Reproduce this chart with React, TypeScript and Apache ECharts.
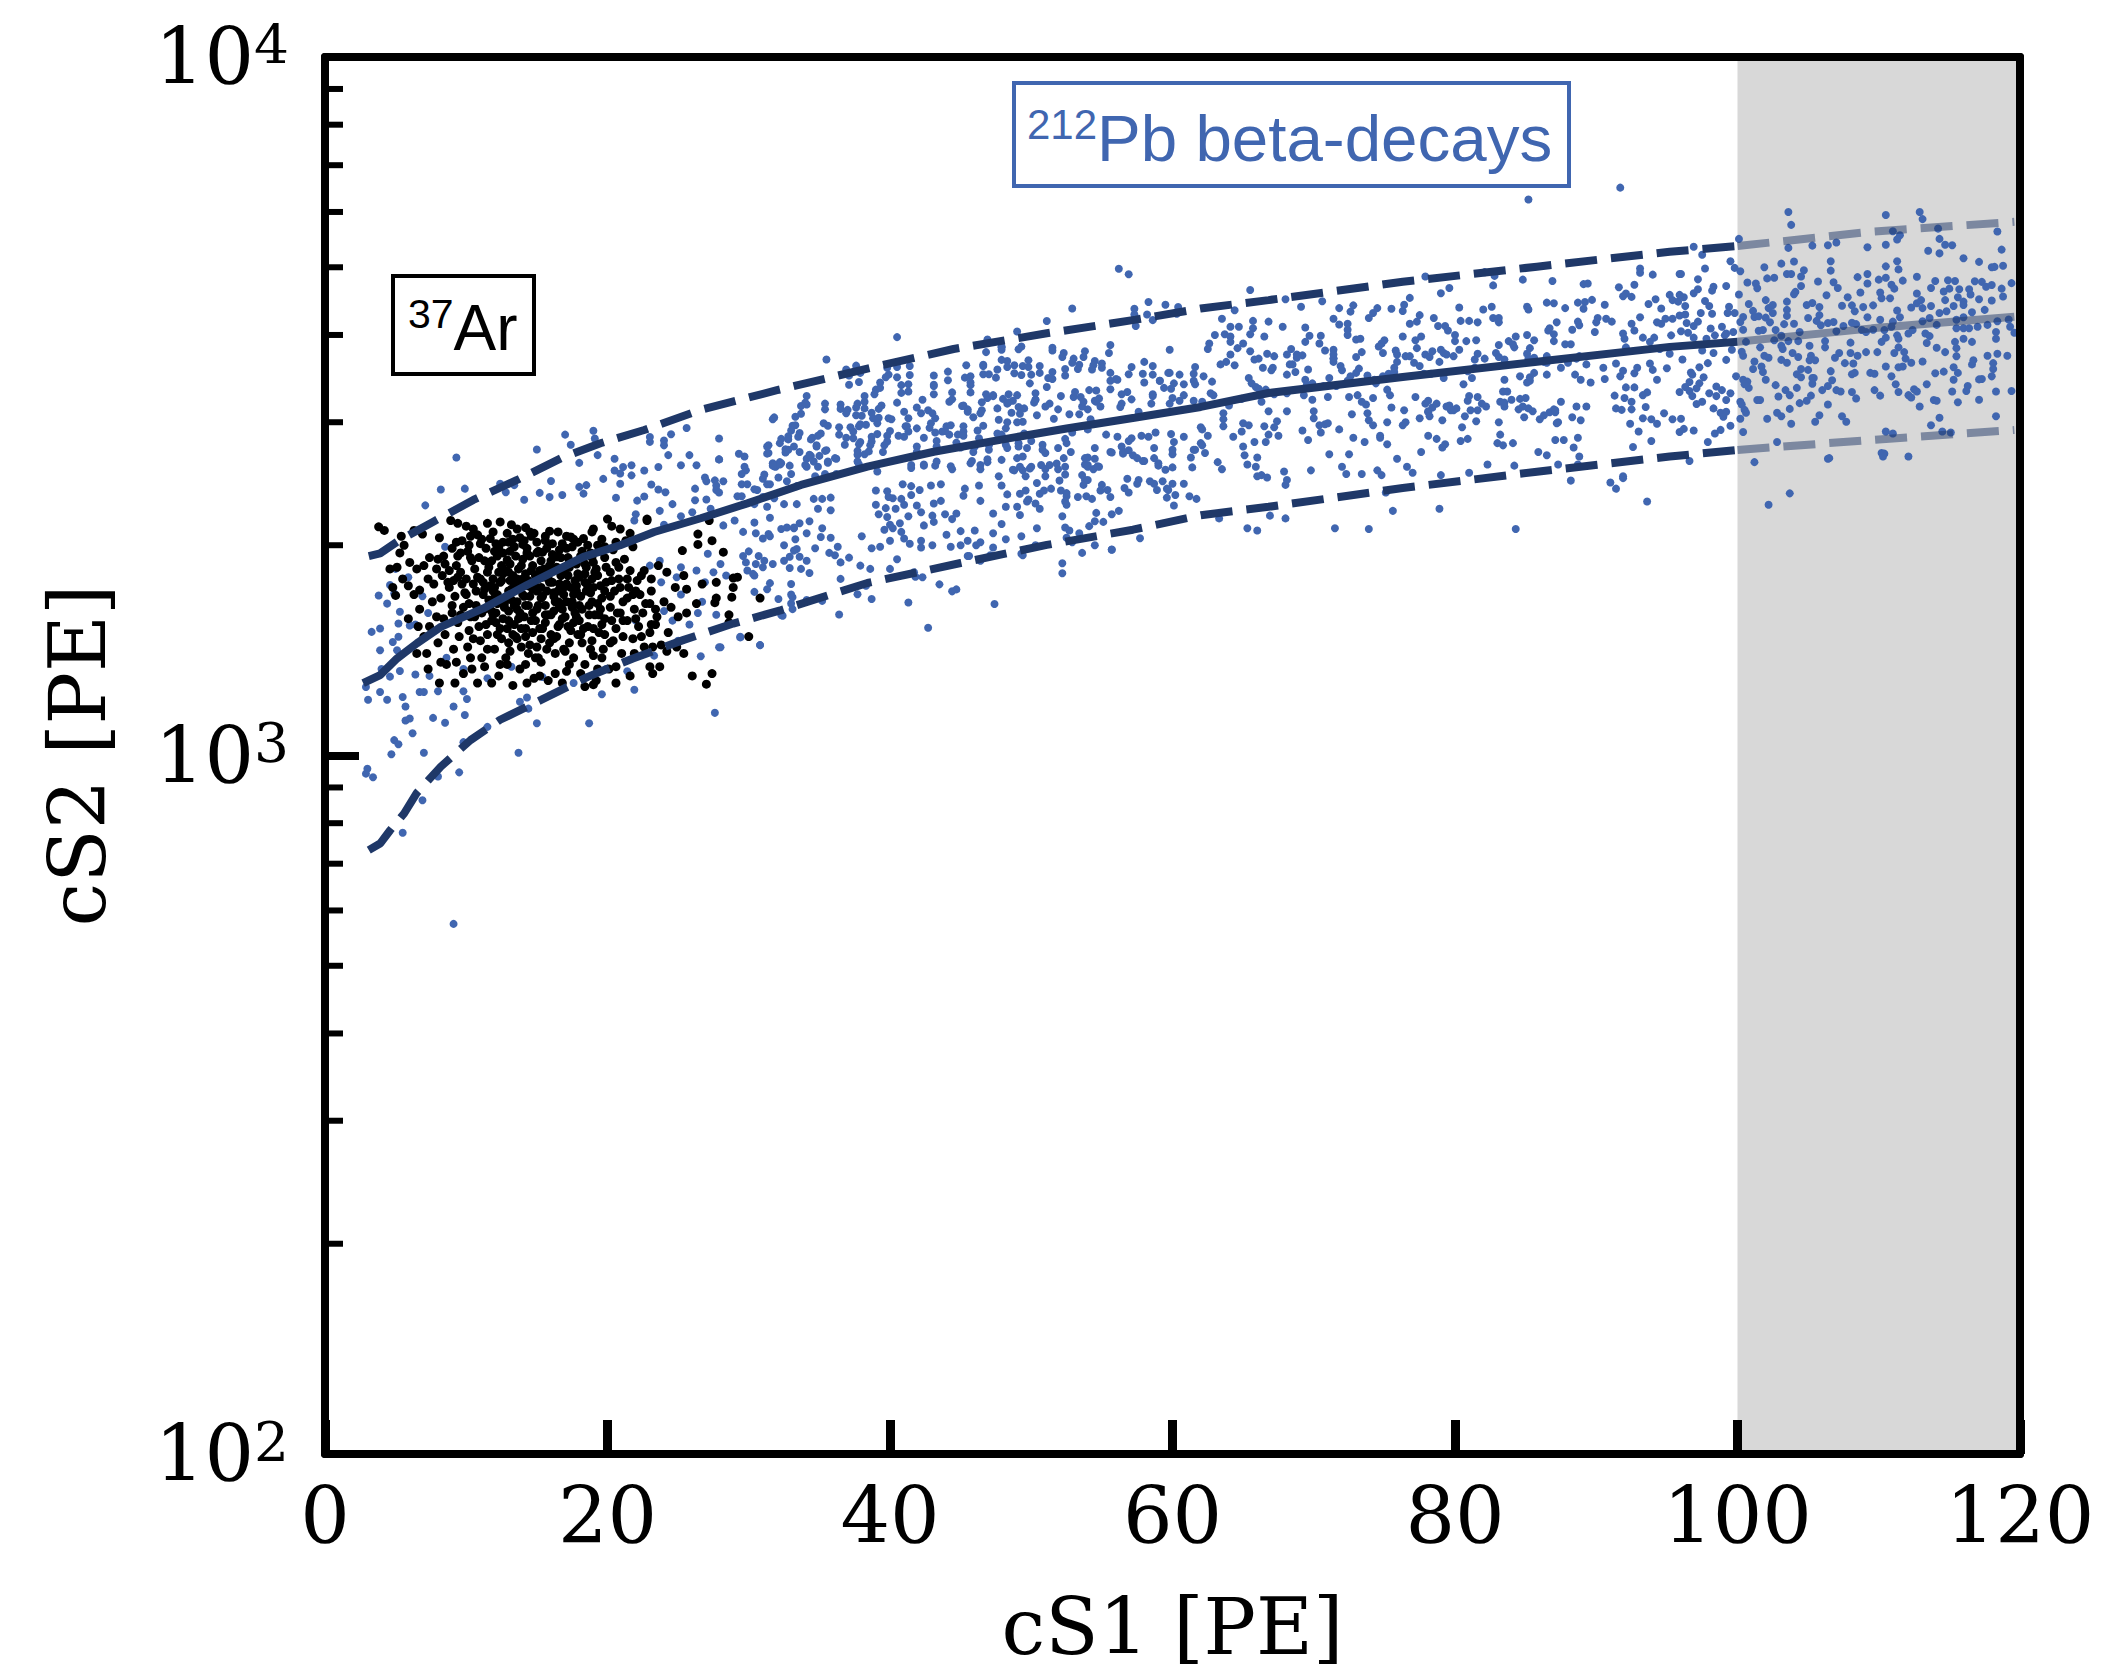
import React, { useEffect, useRef } from "react";
import * as echarts from "echarts";

const minorYTicks = [200, 300, 400, 500, 600, 700, 800, 900, 2000, 3000, 4000, 5000, 6000, 7000, 8000, 9000];

const medianCS1 = [2.7, 3.9, 5.1, 6.5, 8.2, 11.2, 14.3, 18.3, 20.9, 23.3, 26.6, 29.9, 33.7, 38.4, 43.1, 47.8, 52.5, 57.3, 62, 66.8, 76.3, 85.8, 95.2, 100];
const medianCS2 = [1269, 1303, 1377, 1447, 1528, 1624, 1754, 1925, 2000, 2089, 2186, 2296, 2440, 2591, 2722, 2831, 2939, 3045, 3155, 3303, 3483, 3663, 3846, 3912];
const medianFadedCS1 = [100, 109.5, 119.6];
const medianFadedCS2 = [3912, 4088, 4246];

const upperCS1 = [3.1, 3.9, 5.3, 7.7, 10.5, 13.6, 16.7, 19.5, 22.6, 26.6, 32, 38.4, 44.5, 51.1, 57.4, 62, 66.8, 76.3, 85.8, 95.2, 100];
const upperCS2 = [1930, 1947, 2035, 2163, 2322, 2480, 2664, 2799, 2924, 3124, 3334, 3581, 3819, 4022, 4207, 4365, 4487, 4766, 5010, 5263, 5362];
const upperFadedCS1 = [100, 109.5, 119.6];
const upperFadedCS2 = [5362, 5623, 5808];

const lowerCS1 = [3.1, 3.9, 4.6, 5.6, 6.5, 8.2, 10.3, 12.4, 15.3, 18.6, 21.8, 25.4, 28.9, 32.3, 38.4, 45, 51.1, 57.2, 62, 66.8, 76.3, 85.8, 95.2, 100];
const lowerCS2 = [732, 748, 781, 826, 884, 964, 1052, 1125, 1201, 1296, 1377, 1464, 1545, 1615, 1766, 1886, 2002, 2105, 2208, 2270, 2415, 2548, 2679, 2738];
const lowerFadedCS1 = [100, 109.5, 119.6];
const lowerFadedCS2 = [2738, 2830, 2924];

// flat lists: cS1, cS2, cS1, cS2 ...
const bluePointsLow = [
9.3,2670,7.1,2281,8.2,2404,9.9,2410,15,2742,17,2880,19,2917,17.4,2786,19.1,2843,19.3,2692,18,2624,20.5,2660,23,2858,23,2812,24,2825,24.5,2884,25.6,2944,24,2780,24.3,2692,25.8,2692,25.2,2604,20.5,2559,21.1,2588,21.7,2604,22.6,2559,23.6,2588,20.9,2533,21.7,2518,19.7,2489,16,2472,12.4,2449,13.4,2438,12.8,2382,15.2,2377,15.9,2344,16.8,2360,14.1,2323,18,2424,18.5,2438,18.3,2371,20.9,2449,20.6,2339,22.1,2317,22.6,2349,23.1,2443,23.6,2404,24.1,2382,26.2,2410,27.7,2399,26.9,2500,27.6,2477,27.9,2654,29.3,2704,26.3,2604,
3.3,1503,3.9,1520,3.8,1695,4.4,1650,4.6,1754,4.9,1706,5.3,1606,5.2,1545,6,1535,6.4,1540,4.8,1454,5.2,1479,3.9,1415,5.1,1415,4,1330,4.6,1297,5.3,1321,6.4,1306,2.9,1253,3.05,1202,3.9,1233,4.4,1202,5.5,1213,5.7,1175,6.7,1233,7,1233,8,1236,9.8,1236,10.05,1205,9.1,1175,9.9,1143,8.5,1114,7.65,1132,5.7,1122,6,1130,6.2,1076,4.9,1052,5.2,1038,4.7,1004,7,1009,9.8,1045,11.5,1099,13.7,1009,18.7,1112,15,1112,14.4,1167,13.8,1194,14.3,1211,19.6,1224,21.9,1242,27.6,1151,27.9,1429,30.8,1439,29.4,1479,26.6,1387,32.3,1589,3,957,2.9,942,3.4,931,9.5,946,8,933,6.9,863,5.5,775,9.1,574,
5,1850,5.9,1800,6.9,1690,8.5,1990,7.3,1600,8.6,1380,7.4,1300,9.8,1330,11.5,1290,13.2,1340,15.4,1295,17.6,1270,19.9,1330,21.4,1320,23.3,1390,24.6,1560,26.4,1600,25.2,1700,24.9,1800,22,1560,23.8,1770,
29,2170,30.4,2290,31.3,2270,28.2,2135,29.6,2090,32.3,2110,33.2,2115,31.5,2060,27.1,1945,28,1880,30.5,1880,31.7,1880,30,1960,29.9,1840,28.4,1810,30.4,1810,31.5,1765,33,1760,33.1,1685,26.7,1660,27.7,1590,25.8,1540,24,1660,24,1610,25,1460,26.9,1770,27.5,1830,26.3,1840,25.2,1860,23.7,1900,23,1870,31.9,2590,32.9,2600,32.2,2630,29.7,2680,29.8,2560,31.7,2620,32.8,2740,34.1,2660,33,2530,28.2,2470,31.5,2445,30.6,2400,31,2490,26.2,2320,27.3,2255,26,2230,24.6,2290,25.2,2200,24,2140,21.9,2170,22,2215,23.7,2240,
];

const bluePointsMid = [
27,2470,27.7,2435,27.9,2380,27,2325,29.5,2445,29.9,2445,29.7,2590,29.5,2530,29.2,2350,29.5,2350,30.4,2405,31.1,2525,31.3,2445,32.1,2500,32.3,2620,31.8,2595,31.4,2780,31.4,2710,32.3,2840,32.8,2865,32.6,2745,33.6,2895,33.1,2965,33.3,3055,33.7,3165,34.1,3270,34,3200,35.4,3190,34.5,2850,35.1,2890,34.8,2780,35.5,2735,34.4,2685,36.2,2660,34.9,2590,35.6,2625,34.1,2590,34.7,2510,35.4,2530,36.2,2530,32.7,2470,33.4,2430,31,2345,31.8,2335,32.5,2290,33.4,2290,34.6,2330,35.2,2330,35.8,2340,34.9,2255,35.8,2245,31.5,2190,30.4,2155,30.5,2080,31.4,2075,31,2045,32.7,2120,33.6,2150,34.3,2165,33.2,2120,35.2,2115,35.1,2055,35.8,2050,34.1,2080,33.3,2040,32.5,2000,36.3,1990,34.7,1980,33.4,1975,33.2,1965,35.7,1950,36.1,1935,37.1,1920,36.5,1890,32.9,1925,33.6,1925,34.1,1900,32.5,1900,31.1,1900,30.7,1930,29.6,1930,29.8,1890,31,1860,32.9,1855,33.7,1850,34.3,1825,30.3,1820,37.9,1870,38.6,1850,40,1850,40.5,1910,41.7,1830,42.3,1800,36.5,1790,38.3,1750,30.4,1715,31.3,1730,33,1700,34.1,1670,35.2,1665,32.1,1675,33,1650,33.1,1620,
36.9,3570,37.6,3615,37.1,3500,37.9,3530,36.5,3180,37,3125,37.7,3190,38.2,3270,39,3340,39.3,3420,39.8,3590,39.9,3510,40.5,3600,41.4,3610,40.8,3390,41.3,3400,43.1,3500,44.1,3545,43.1,3380,44.4,3310,45.7,3490,45.7,3420,45.4,3620,46.6,3625,46.6,3610,47.6,3570,47.9,3840,46.9,3940,47.9,3850,48.3,3670,49.3,3850,49.8,3680,48.8,3620,49.4,3610,50.6,3610,51.5,3835,52.3,3770,53,3700,53.8,3790,53.4,3625,52.4,3575,51.5,3540,51.2,3470,50,3510,54.5,3670,55,3640,55.6,3870,57.3,4360,57.3,4280,57.4,4120,58.2,4280,58.6,4200,58.3,4460,59.5,4420,60.3,4290,59.8,3810,58,3660,58.6,3610,57.1,3600,55.6,3530,59.8,3530,60.5,3510,61.5,3520,56.1,3450,55.6,3440,59.1,3440,60.1,3410,60.8,3400,59.4,3360,
54.6,3330,54.6,3210,56.4,3290,58.6,3270,60,3250,60.5,3220,56.4,3190,54,3130,54.5,3220,48.4,3290,47.3,3270,48,3240,48.3,3190,46.9,3250,45.5,3130,46.5,3120,48.7,3220,50.2,3200,51.3,3190,53,3260,53.5,3260,53.6,3160,54.2,3030,50.3,3230,51.9,3130,49.5,3140,47.6,3140,45.2,3170,44.2,3210,42.3,3230,41.3,3040,42.7,3120,38.2,3140,38.8,3040,39.4,3170,40.5,3200,41.9,3150,
37.6,3070,37.9,2980,39.1,2990,40.1,3030,41.1,2960,41,2860,41.2,2960,42.9,2990,44,2960,44.2,2880,43.7,2910,45.2,2910,46.2,2920,47.6,2890,47.9,2880,49.5,2890,48.2,2940,
37.4,2910,36.4,2950,36.9,2850,37.9,2810,38.6,2780,37.7,2730,38.2,2700,39.6,2780,39.8,2870,38.7,2860,41.9,2770,43.3,2820,44.8,2880,45,2760,46,2770,47,2780,48.2,2785,49.1,2800,50,2820,50.8,2785,51,2710,52.4,2840,52.9,2900,54,2930,55.3,2880,56.1,2860,56.9,2820,57.8,2870,58.8,2900,59.9,2885,60.1,2810,60.8,2860,62,2800,61.6,2740,60,2700,59,2620,58,2640,57.2,2690,56.5,2720,55.6,2720,54.5,2660,54,2670,53.8,2610,54.4,2570,54.8,2590,54,2590,52.4,2590,51.9,2570,51,2570,50,2590,49.4,2560,48.8,2560,46.9,2630,46.4,2570,45.7,2620,44.4,2570,43.2,2600,42.4,2600,41.5,2580,39.1,2550,37.8,2610,
52.5,2350,53.9,2350,52.4,2310,55,2440,55.4,2400,56.9,2380,58.9,2400,59.6,2340,60.2,2360,61.2,2350,57.6,2480,58.7,2450,59.7,2400,60.1,2280,53.8,2480,53.7,2440,50.6,2370,49.7,2310,49.2,2370,
39.3,1990,38.7,1980,40,2030,41,2045,41.4,2010,42.2,1985,44.3,1990,45,2000,46.1,2000,47.3,1985,45.5,1930,46.4,1900,47.1,1935,48.2,2040,49.3,1945,50.3,2000,52.2,1885,52.5,2050,53.6,1950,54.5,2000,55.7,1970,55.1,2160,54.1,2130,52.7,2100,56.2,2240,54.3,2330,
36.4,1592,42.7,1524,47.4,1648,52.2,1824,55.7,1972,57.7,2046,41.3,1656,38.7,1675,37.7,1702,43.5,1758,44.4,1718,44.7,1729,41.8,1803,32.4,1585,30.8,1439,29.4,1476,28,1429,40.5,3972,35.5,3690,56.2,4977,56.9,4887,52.9,4365,51.1,4188,49,4046,60.4,4385,31.8,3048,27.9,2843,27.9,2654,
39,2395,39,2285,39.8,2390,39.9,2345,40.9,2445,41.5,2430,42.1,2400,41.5,2360,40.8,2330,40.2,2335,41,2285,40.4,2255,39.7,2260,39.2,2215,39.8,2195,41.9,2280,41.3,2200,42.2,2230,43.1,2295,43.6,2315,43,2205,43.9,2215,44.7,2220,44.4,2180,43.1,2160,42.4,2135,40.7,2150,40,2140,42.9,2435,43.6,2445,45.3,2410,45.2,2355,46.3,2435,46.4,2315,47.3,2220,48.2,2270,49.2,2210,49,2270,50.3,2295,50.6,2255,49.8,2325,52.5,2285,53.3,2345,54.9,2395,55.6,2345,47.7,2510,47.9,2435,48.3,2365,49.6,2395,50.9,2395,51.4,2410,52.1,2395,52.5,2375,50.4,2455,49.6,2510,51,2510,52,2475,52.4,2525,53.6,2520,54,2480,56.8,2490,57.5,2450,56.6,2415,58.4,2470,59.3,2470,60,2450,60.8,2450,59.6,2410,61.7,2330,
45.5,2030,46.4,2020,47.9,2145,49.3,2060,50.4,2115,52.2,2200,52.4,2120,54.5,2165,54.6,2225,55.7,2215,53.4,2080,52.9,2020,49.4,1935,45.6,1930,38,2060,39.6,2105,40.2,2115,40.8,2090,42.2,2030,43,2000,44,2070,45,2095,46,2100,47.3,2080,
];

const bluePointsMidUpper = [
31.7,3030,33.3,2970,34.1,3180,33.7,3085,35.4,3130,33,2920,35.3,2990,35.6,2965,37.2,2950,37.8,2960,38.3,2975,36.4,2880,34.9,2870,34.4,2835,33.5,2860,32.8,2835,32.2,2800,31.3,2770,31.3,2705,33.2,2770,34.8,2770,36.8,2785,37.4,2845,37.8,2790,38.7,2815,39.1,2885,40,2915,40.6,2870,41.3,2910,41.9,2940,42.8,2945,43.2,2900,43.9,2915,44.3,2970,42.4,2850,45.2,2870,44.7,2805,45.2,2960,46.6,2965,46.3,2845,39.8,2815,35.4,2730,33.6,2720,32.6,2715,34.3,2695,35,2685,36.1,2665,35.6,2635,34.6,2635,34,2605,32.2,2610,31.7,2600,37.7,2635,37.7,2695,38.5,2725,39.5,2720,41.9,2720,43.3,2770,45.9,2720,47,2740,41.5,2605,42.4,2610,43.3,2635,44.3,2595,45.8,2640,46.4,2605,46.9,2655,47.9,2650,48.3,2755,49.1,2770,49.7,2755,49,2665,49.4,2680,48.7,2565,49.2,2590,49.9,2575,50.7,2605,51.3,2605,51.8,2618,52.3,2665,52.8,2720,50.8,2740,51.9,2755,52.5,2800,53.8,2665,54,2605,54.7,2595,54.5,2755,55.7,2715,56.4,2770,56.5,2705,57.1,2845,56.9,2735,57.5,2665,57.9,2640,58.7,2665,59,2600,60,2585,59.5,2565,60,2740,58.3,2860,58.7,2755,61.3,2670,61.4,2585,
54.4,3620,55,3590,54.3,3570,53.3,3575,52.4,3500,51.5,3460,50.6,3530,49.9,3410,51.1,3370,52.1,3270,53.1,3315,54.1,3335,54.8,3245,53.7,3210,55.6,3345,56,3460,56.8,3315,56.9,3515,57.9,3520,58.6,3510,58,3420,59.1,3440,59.7,3530,59.9,3350,58.6,3290,57.1,3235,58.5,3190,59.8,3190,60.8,3280,61.5,3440,54.9,3160,56.3,3155,57.6,3105,53.4,3080,52.7,3080,51.6,3035,50.4,3070,51,3160,50.3,3230,50.3,3300,49,3280,48.4,3205,49.1,3155,48.6,3095,49.2,3085,47.7,3025,48.3,3000,49,3000,49.4,3005,47.3,3280,46.8,3290,46.5,3205,45.1,3165,45.5,3105,45.9,3050,46.4,3090,44.4,3235,43.1,3395,43.1,3290,44.1,3445,45.7,3390,45.7,3310,45.3,3475,46.6,3515,47,3515,47.5,3475,48.8,3525,49.3,3505,49.8,3600,48.3,3600,47.9,3685,47.9,3810,46.8,3780,49.1,3815,51.5,3800,52.2,3720,52.9,3650,53.7,3720,55.5,3770,41.3,3320,40.8,3305,41.4,3505,40.5,3480,39.7,3480,38.9,3290,39.3,3360,38.2,3210,37.1,3395,37.8,3425,36.5,3135,36.9,3090,37.6,3150,38,3065,38.7,3095,39.2,3135,39.2,3045,39.9,3040,41,3105,42.2,3090,43,3090,43.2,3040,
];

const bluePointsUpperRight = [
65.5,4640,64.4,4340,63.5,4220,64.1,4110,64.7,4110,65.7,4190,65.7,4090,66.8,4180,63,4000,63.7,4010,67.8,4110,68,4500,69.1,4390,70.6,4470,69.4,4100,71.8,4370,72.6,4320,72.8,4410,71.4,4220,71.8,4140,72.4,4150,72.4,4070,72.4,4000,73.9,4230,74.2,4300,74.5,4370,75.5,4360,76.3,4330,76.4,4420,76.8,4520,76.8,4150,77.3,4180,77.5,4270,78.5,4230,78.8,4120,79,4590,79.6,4670,77.9,4850,80.3,4380,79.3,4120,79.5,4060,80.4,4190,81,4190,81.6,4170,82,4350,82.1,4920,82.8,4860,82.7,4710,82.6,4390,82.7,4230,83.1,4230,83.1,4170,84.8,4800,86.9,4780,85.1,4390,85.2,4350,86.5,4450,87,4440,87.8,4370,87.2,4170,88.7,4450,89.2,4460,89.7,4490,89.1,4360,89.1,4730,89.4,4740,90.6,4420,88.7,4180,88.8,4130,88.3,4070,90.1,4230,90,4170,90.7,4220,86.7,4090,87,4010,86.6,4060,89.9,4040,
62.6,3890,62.5,3820,64.1,3980,64.1,3910,65.5,4010,65,3890,64.6,3830,66.5,3980,65.5,3790,64.1,3750,66.7,3760,66.1,3700,67.2,3730,68.4,3820,68.1,3750,68.8,3750,69.2,3740,69.4,3910,69.7,3990,70.5,3990,70.4,3890,70.8,3800,71.4,3700,71.4,3810,71.4,3750,71.4,3700,73,3940,73.3,3950,73.4,3780,73,3720,75,3930,74.8,3890,74.6,3850,74.9,3770,76.3,3980,77.2,3930,77.6,3980,75.8,3800,75.9,3750,76.5,3730,76.8,3730,77.3,3830,77.9,3750,78.2,3720,78.4,3790,79,3810,79.2,3770,79.4,3750,80.3,3810,79.9,3730,81.6,3760,82.1,3700,80.8,3920,81.5,3930,80,3920,80,4000,82.9,3770,83.1,3720,84.2,3840,83.8,3920,84.3,3980,85.1,4000,85.6,3930,83.1,3870,84.1,3880,85.3,3830,85.1,3760,85.2,3700,83.5,3690,87,3920,87.8,3880,85.6,3710,86.5,3730,88.8,3730,88.2,3880,
61.6,3600,62.2,3490,62.8,3430,63.4,3630,63.8,3660,64.4,3620,65.4,3470,65.6,3410,65.8,3690,65.9,3370,67.1,3590,66.1,3350,66.4,3590,67,3560,68.1,3510,68.5,3630,68.7,3540,68.3,3630,69.6,3570,68.8,3710,69.4,3450,69.5,3390,69.9,3410,70.7,3380,71.6,3380,71.1,3470,72.4,3440,73.2,3580,72.6,3490,71.9,3610,71.4,3660,72,3560,73,3530,73.8,3500,74.3,3450,74.9,3490,74.4,3410,75.3,3520,75.7,3590,75.9,3660,75.7,3540,77.1,3650,77.8,3520,77.5,3610,78.9,3660,78.3,3520,79.2,3470,80.6,3400,80.9,3550,81.2,3470,81.4,3690,81.4,3590,83.5,3450,84.6,3490,85.3,3440,86.3,3660,85.1,3420,85.3,3480,85.6,3530,86.5,3650,86.5,3510,87.5,3590,88,3650,88.6,3700,88.5,3510,88.9,3450,89.3,3630,89.6,3420,90.6,3460,90.5,3590,
61.6,3400,62.9,3280,62.7,3300,61.5,3220,62.1,3210,64,3170,64.9,3240,66.6,3340,66.3,3210,67.2,3290,69.3,3280,68.1,3300,69.9,3230,71,3260,72.5,3260,73.1,3280,73.4,3210,73.7,3180,74.2,3250,75.4,3280,75.2,3340,77.2,3260,77.9,3190,78.1,3220,78.4,3150,78.7,3190,80.1,3140,81,3270,81.6,3260,83.4,3320,83.2,3210,83.7,3320,83.5,3200,86.7,3100,86,3030,85.5,3110,85.2,3140,84.8,3160,83.5,3160,84.6,3240,82.2,3160,81.6,3120,81.1,3120,80.9,3220,79.9,3120,79.4,3160,79.6,3170,79.7,3120,75.5,3150,76.4,3120,78.1,3110,81.9,3190,84.5,3130,84,3230,85,3250,86.3,3070,87,3130,87.5,3210,88.6,3160,89.3,3160,
62,2950,63.6,3090,63.6,3030,63.6,2960,65,2990,65.4,2970,66.8,3110,66.5,2960,68.1,3110,67.4,3010,67.2,2950,67.5,2870,70,3110,70,3040,72.7,3080,73.8,3090,73.9,3020,74.2,2970,74.7,2870,75.2,3000,76.3,2970,77.5,3040,78.1,3100,76.5,3000,78.2,3060,79.1,3020,80.5,2950,80.7,3060,81.5,3010,83.1,3000,84.9,3050,87.1,3120,87.1,3100,87.3,3000,87.2,2990,88.3,3050,88.9,3020,
62.1,2930,62.5,2870,64.3,2860,64.9,2910,66.8,2880,66.6,2810,65,2770,65.8,2810,69.2,2920,70.4,2970,70.5,2900,69.6,2830,70.8,2980,71,2990,71.8,2930,72.8,2850,73.6,2810,74.7,2850,75.2,2790,77.6,2720,78.1,2870,78.7,2840,79.3,2790,79.1,2760,80.4,2820,80.9,2840,83.2,2880,83,2800,83.4,2780,84.1,2800,87.1,2830,87.7,2830,88.7,2850,88.4,2760,
62.1,2780,62.3,2710,61.5,2740,63.2,2630,63.5,2570,65.1,2690,66,2670,65.3,2610,66,2510,66.3,2520,66.7,2500,67.9,2550,68,2440,65.9,2590,68.1,2480,69.8,2560,71.1,2700,72.5,2700,72,2590,72.3,2530,73.4,2530,74.5,2560,74.8,2520,75.9,2660,76.6,2590,75.1,2380,77,2540,79,2520,81,2540,82.3,2610,84.2,2600,85.9,2720,86.5,2690,87.3,2610,88.7,2610,88.8,2680,
];

const bluePointsRight = [
103.6,6000,103.8,5750,110.5,5940,112.9,6000,113.1,5860,100.1,5490,96.9,5350,97.5,5210,103.6,5330,105.3,5370,106.4,5375,107,5425,109.2,5340,110.5,5385,111,5630,111.5,5555,111.3,5480,114.2,5680,114.3,5490,114.7,5385,115.2,5375,113.5,5280,114.3,5235,116,5150,117.1,5090,118.4,5625,118.7,5300,118,5000,118.2,5007,118.8,5025,99.5,5100,99.8,4990,100.2,4935,97.7,4980,97.2,4805,93.1,4980,93.1,4910,94,4880,95.9,4890,96,4890,91.6,4680,92.7,4720,91.9,4545,92.1,4585,92.5,4535,94.2,4500,93.7,4430,95.2,4565,95.4,4487,95.8,4465,95.9,4565,96.2,4530,96.3,4400,94.6,4365,96.9,4590,97.2,4650,98.2,4630,98.3,4690,99.2,4700,97.7,4475,98,4400,97.4,4300,98.2,4290,99.4,4390,99.3,4300,99.8,4300,100.1,4570,
100.7,4755,101.3,4740,101.4,4665,101.9,5000,102.1,4820,102.6,4830,103.1,5060,104,5095,103.5,4890,103.8,4890,104.7,4950,104.5,4850,104.5,4700,105.7,4770,106.6,5100,106.6,4945,106.8,4760,107.1,4670,106.3,4560,104.1,4610,104,4575,107.8,4530,108.5,4840,109.2,4890,109.2,4740,110,4800,110.5,5015,110.5,4830,111.3,5100,111.4,4965,111.7,4785,110.9,4720,111.1,4660,108.7,4600,110.1,4600,110.2,4515,110.8,4515,112.7,4845,112.7,4585,113.7,4670,114,4780,114.6,4615,115,4660,114.9,4790,115.4,4780,115.7,4650,115.6,4530,116.4,4650,116.5,4570,116.8,4775,117.3,4765,117.6,4690,118,4715,117.1,4500,118,4480,118.7,4660,119.4,4745,118.8,4540,114.7,4487,116,4465,
100.8,4430,101.1,4330,101.2,4245,102,4487,102.2,4370,102.5,4415,102.5,4300,103.5,4465,103.5,4345,103.5,4260,101.5,4255,102,4235,104.9,4415,105.3,4445,105.8,4385,105.8,4270,105,4230,107.4,4405,108.1,4410,108.3,4325,108.9,4385,109.6,4410,109.2,4240,110.1,4205,111,4180,111.3,4335,111.5,4240,112.3,4380,112.7,4440,113,4487,113.1,4370,113.7,4400,114.3,4300,114.8,4325,115.3,4400,116,4415,116.6,4310,117.5,4345,116,4240,115.5,4205,113.6,4230,
100.4,4245,100.2,4175,100.4,4070,100.6,3910,101.5,4055,101.8,4065,102.3,4170,102.7,4065,103.3,4145,104,4150,104.4,4040,103.1,3990,102.6,3930,103.6,3920,104.3,3920,105.6,4190,105.9,4130,106.4,4160,106.8,4175,107,4050,107.5,4120,108.1,4165,108.4,4145,108.8,4065,109.1,4040,109.6,4070,110.4,4065,110.9,4110,110.5,3965,110.2,3910,111.3,3995,111.4,3950,112.1,4019,112.4,4065,113.1,4185,113.3,4019,113.6,3985,114.1,4135,115.5,4090,116,4090,116.4,4090,117,4110,117.7,4135,118.3,4040,118.4,4185,119.3,4110,119.6,4030,119.2,4210,
101.6,3840,101.9,3735,102.2,3710,103.1,3860,103.2,3820,103.1,3685,103.5,3650,103.9,3770,104.3,3720,105.1,3860,106.2,3920,106.2,3840,105.2,3735,105.1,3680,105.5,3680,106.9,3710,107.2,3770,107.6,3645,108,3900,108,3770,108.2,3640,108.5,3735,109.1,3780,109.9,3780,111.1,3770,111.4,3840,111.8,3780,111.9,3700,112.3,3650,111.7,3605,111.4,3597,110.5,3605,113.4,3895,114.1,3835,114.7,3780,113.1,3665,115.4,3910,116,3950,115.5,3830,115.5,3730,116.6,3910,117.7,3735,118.3,3950,118.4,3760,119.1,3735,116.7,3680,116.6,3630,118.1,3645,118.1,3575,100.3,3785,100.4,3735,101.2,3665,
99.9,3490,101.1,3575,101.7,3605,101.8,3540,102,3450,100.4,3450,100.7,3430,100.8,3360,100.5,3400,102.7,3390,103.4,3335,104.2,3360,104.2,3515,104.5,3575,104.5,3480,105,3565,105.3,3470,105.3,3405,105.4,3470,106.6,3550,106.7,3445,106.4,3380,106,3335,108.1,3515,108.3,3530,109.4,3530,109.7,3520,109.7,3335,107,3335,107.3,3320,108.1,3315,110.9,3490,111.2,3400,111.4,3315,113.4,3400,112.5,3345,112.7,3320,114,3525,114.6,3545,115.3,3597,115.6,3530,115.3,3450,116.3,3380,116.2,3325,115.2,3320,117.3,3460,117.1,3455,118,3490,118.3,3320,119.4,3325,
102.9,3265,103.7,3280,101.6,3228,101.4,3228,104.4,3195,104.9,3220,105.2,3275,100.2,3210,100.3,3180,100.5,3125,100.6,3095,106.4,3180,103.7,3135,108.4,3245,110.1,3275,112.1,3280,112.3,3255,113.9,3228,114.1,3220,115.6,3205,117.1,3230,112.9,3160,100.2,3035,102.1,3035,102.8,3095,103.1,3060,103.8,2985,105.8,3070,105.5,3005,107.4,3060,107.7,3005,114.3,3045,113.7,2970,118.3,3060,100.4,2905,110.5,2910,111,2890,114.5,2910,115.1,2900,102.8,2810,101.2,2630,106.4,2660,110.2,2710,110.4,2705,110.3,2680,112.1,2680,102.2,2286,103.7,2373,106.5,2665,
91.1,4180,92.5,4150,92.7,4060,93.1,4240,94.3,4170,94.6,4150,94.9,4220,95.4,4220,95.9,4265,96.3,4280,96.4,4160,96.9,4120,97.2,4180,98.1,4085,98.9,4110,99.2,4019,99.7,4040,91.9,4019,92,3950,93.3,3965,93.8,3910,94.1,3965,95.3,3995,96,4050,96.5,4030,96.9,3965,97.8,3950,98.4,3995,99.1,3995,92.1,3840,94.5,3820,95.2,3760,96.1,3690,97.5,3800,98.3,3770,99.2,3685,99.6,3810,91.4,3640,93.8,3640,92.9,3590,94,3565,95,3585,91.7,3490,91.9,3555,92.7,3525,94.3,3450,96.7,3535,96.8,3510,97.3,3597,97.9,3645,97.6,3480,96.6,3425,96.3,3370,97.3,3410,98.5,3375,92.1,3365,92.7,3365,97.1,3355,96.6,3325,93.6,3310,93.3,3280,95.9,3315,96.8,3270,98,3300,98.5,3270,98.9,3335,99.5,3300,91.3,3275,92,3250,92.5,3210,93.5,3155,91.4,3140,91.8,3125,92.5,3130,97.5,3210,97.1,3185,99.2,3228,98.3,3140,98.8,3095,99.2,3105,99,3055,94.8,3090,93.3,3040,93.9,3030,94.3,2985,95.4,3030,96,3035,92.4,2985,93,2910,96.2,2935,95.9,2905,96.9,2920,98.4,2890,98.8,2925,99.5,2965,93.9,2820,97.9,2810,92.6,2765,96.6,2640,91.9,2510,
91.7,6501,85.2,6250,65.3,2115,66,2100,68,2185,66.9,2205,63.3,2185,73.9,2110,71.5,2115,75.6,2240,78.9,2255,84.3,2110,93.6,2310,91.4,2410,91,2460,91.9,2495,88.2,2475,
];

const blackPoints = [
3.8,2125,4.2,2100,5.4,2060,5.6,2000,6.3,2100,6.9,2075,8.1,2050,8.9,2170,9.4,2150,9.7,2030,10,2130,10.5,2110,11.5,2150,12.4,2160,13.2,2140,14.2,2120,14.8,2080,15.6,2060,16.5,2090,17.1,2060,17.9,2020,18.9,2090,19.6,2040,20,2180,20.3,2130,20.9,2110,22.8,2170,21.8,1990,
4.6,1850,5.3,1950,5.1,1860,5.5,1790,4.8,1740,5,1695,5.9,1750,6.3,1700,6.7,1725,7.3,1790,7.9,1850,8.4,1930,7.6,1660,8.2,1680,8.7,1770,9,1980,9.3,1870,9.6,1830,10.1,1960,10.6,1850,11.1,2040,11.4,1980,11.8,1900,12.1,2010,12.3,1830,12.6,1950,12.9,2080,13.1,1880,13.4,1990,13.8,2050,14,1910,14.3,1980,14.7,1870,15,2020,15.3,1900,15.7,1980,16.1,1940,16.4,1860,16.8,2010,17.2,1920,17.5,1990,17.8,1880,18.1,1930,18.6,2000,19,1890,19.4,1960,19.8,1920,20.4,1970,20.8,1860,21.2,1910,21.6,1840,22.1,1780,22.6,1840,23.1,1790,23.6,1870,24.2,1830,24.8,1740,25.4,1810,25.6,1730,
8.8,1740,9.2,1690,9.7,1760,10.2,1650,10.7,1720,11,1790,11.3,1620,11.7,1750,12,1680,12.4,1770,12.7,1630,13,1720,13.3,1810,13.6,1660,13.9,1750,14.2,1820,14.5,1690,14.8,1760,15.1,1640,15.4,1800,15.7,1720,16,1830,16.3,1660,16.6,1760,16.9,1700,17.2,1810,17.5,1630,17.8,1750,18.1,1690,18.4,1820,18.7,1640,19,1740,19.3,1810,19.6,1680,19.9,1770,20.2,1630,20.5,1720,20.8,1790,21.1,1660,21.5,1740,21.9,1620,22.3,1700,22.7,1650,23.1,1720,23.5,1580,24,1660,24.5,1630,25,1580,25.6,1600,26.3,1650,
5.9,1570,6.7,1620,7.4,1530,7.9,1580,8.5,1490,9,1600,9.4,1550,9.8,1630,10.2,1510,10.6,1580,11,1460,11.4,1540,11.8,1610,12.2,1490,12.6,1570,13,1450,13.4,1540,13.8,1600,14.2,1480,14.6,1560,15,1430,15.4,1520,15.8,1590,16.2,1470,16.6,1540,17,1410,17.4,1510,17.8,1580,18.2,1450,18.6,1530,19,1390,19.4,1500,19.8,1570,20.2,1450,20.6,1520,21,1400,21.4,1560,21.8,1470,22.2,1530,22.6,1430,23,1500,23.4,1540,23.8,1440,24.3,1500,24.9,1430,25.4,1400,
6.5,1400,7.3,1330,8.1,1270,8.6,1350,9.2,1270,9.8,1310,10.3,1380,10.8,1270,11.3,1340,11.8,1270,12.3,1300,12.8,1380,13.3,1260,13.8,1330,14.3,1270,14.8,1290,15.3,1360,15.8,1280,16.3,1310,16.8,1270,17.3,1350,19.2,1280,20.1,1330,21.6,1300,
30,1480,26,1300,27,1265,27.4,1310,23,1340,23.7,1340,23.2,1310,20.6,1270,18.4,1255,19,1263,28.9,1795,29.2,1800,28.9,1740,28.8,1685,28.6,1590,28.6,1550,30.8,1680,27.7,1770,27.7,1680,27.6,1655,26.7,1760,28.2,1955,27.4,2030,26.4,2075,26.4,2005,27.2,2170,22.8,2180,25.3,1965,
9.3,2020,10.9,1920,11.6,1860,12.2,1930,12.8,1840,13.5,1930,13.7,1850,14.5,1930,15.2,1840,15.9,1870,16.7,1920,17.3,1860,18.4,1880,10,1790,10.4,1900,11.2,1700,11.9,1790,12.5,1870,13.2,1670,13.6,1790,14,1700,14.4,1640,14.7,1600,15,1720,15.3,1680,15.6,1590,15.9,1770,16.2,1610,16.5,1720,16.8,1570,17.1,1660,17.4,1740,17.7,1600,18,1640,18.3,1520,18.6,1750,19.1,1590,19.5,1620,19.8,1490,20.3,1560,20.7,1600,12.1,1600,12.4,1520,12.7,1650,13,1560,13.3,1490,13.6,1620,13.9,1520,14.1,1580,14.4,1400,14.7,1500,15,1620,15.3,1470,15.6,1550,16,1490,16.3,1400,16.6,1630,17,1580,17.3,1450,17.6,1380,18,1560,18.4,1350,18.9,1460,19.3,1330,19.7,1420,
10.2,2000,10.8,2070,11.3,1900,11.9,2090,12.6,2020,13.1,1960,13.6,2110,14.1,2030,14.6,2060,15.1,1960,15.6,2030,16.1,2010,16.6,1970,17.1,1980,17.6,2040,18.2,1960,18.8,1950,19.3,2000,12,1740,12.6,1820,13.1,1780,13.5,1730,14,1790,14.4,1750,14.9,1810,15.3,1740,15.8,1790,16.2,1710,16.7,1650,17.1,1760,17.6,1700,18,1800,18.5,1720,18.9,1660,19.4,1590,19.8,1720,20.3,1780,20.9,1600,21.4,1680,22,1570,22.5,1600,23.1,1540,
11.7,2045,12.3,1985,12.9,1905,13.3,2040,14,2005,14.5,2090,15.4,1955,15.9,2095,16.4,1925,17.4,2055,18.3,2045,19,2110,10.3,2060,9.4,1930,8.5,1880,9.1,1780,7.7,1760,8.3,1810,10.8,1800,11.5,1830,11.2,1770,12.2,1700,13.4,1750,14.7,1730,15.5,1850,16.7,1810,17.9,1820,18.9,1790,16.1,1770,14.1,1690,13,1610,12.1,1550,11.5,1490,10.7,1640,10,1700,9,1640,8.4,1570,9.5,1480,9.1,1420,8,1450,7,1480,6.6,1530,7.2,1400,10.1,1430,11.1,1380,12,1420,12.9,1350,13.9,1430,14.9,1380,15.7,1420,16.4,1480,17.2,1530,17.9,1490,18.7,1590,19.6,1540,20.4,1460,21.1,1480,21.9,1400,22.4,1480,23.2,1430,24.2,1410,15.2,1520,15.6,1640,16.2,1690,16.8,1620,17.5,1660,14.2,1640,13.7,1570,12.9,1520,13.4,1640,11.6,1670,11.9,1590,10.9,1530,10.3,1580,9.6,1590,
20.2,1830,20.6,1890,19.9,1860,19.2,1850,18.5,1860,17.7,1780,17,1850,16.2,1840,15.1,1790,14.6,1840,13.9,1870,13,1830,12.5,1780,11.9,1720,11.3,1730,10.5,1760,9.9,1710,9.4,1800,8.8,1840,8,1910,7.4,1920,7,1870,6.5,1850,6,1890,20.9,1740,21.4,1790,22,1720,22.4,1810,23,1650,23.4,1620,21.1,1560,21.8,1700,20.2,1690,19.5,1750,18.8,1710,18.2,1620,17.6,1550,18.1,1490,18.8,1420,19.6,1380,20.6,1340,19,1520,19.3,1650,16.5,1530,15.9,1450,15.1,1380,14.2,1350,13.1,1410,12.4,1350,11.5,1420,10.4,1330,9.3,1360,8.2,1360,16.9,1420,17.1,1320,18.1,1310,15.2,1300,14.5,1440,13.6,1470,12.5,1470,11.8,1560,10.5,1470,11.1,1600,16,1590,16.5,1660,15.4,1690,14.4,1780,13.2,1730,12.2,1650,14.9,1560,14.2,1520,13.5,1480,16.9,1740,17.8,1720,18.4,1770,19.1,1830,17.3,1900,16,1900,15,1950,14.3,1950,13,2020,12,1960,11,2010,10.3,1920,9.6,1950,18.9,1920,19.8,1990,20.6,2020,21.3,2030,21.6,2080,
];

const toPairs = (flat: number[]) => {
  const out: number[][] = [];
  for (let i = 0; i + 1 < flat.length; i += 2) out.push([flat[i], flat[i + 1]]);
  return out;
};
const zip = (a: number[], b: number[]) => a.map((v, i) => [v, b[i]]);

const NAVY = "#1f3868";
const BLUE = "#4066b0";
const SERIF = "DejaVu Serif";

const lineSeries = (data: number[][], dashed: boolean, faded: boolean) => ({
  type: "line",
  data,
  symbol: "none",
  silent: true,
  z: 6,
  lineStyle: {
    color: NAVY,
    width: 8,
    opacity: faded ? 0.5 : 1,
    type: dashed ? [32, 14] : "solid",
  },
});

export default function App() {
  const ref = useRef<HTMLDivElement>(null);
  useEffect(() => {
    document.body.style.margin = "0";
    const chart = echarts.init(ref.current!, null, { renderer: "svg" });
    chart.setOption({
      animation: false,
      backgroundColor: "#fff",
      grid: { left: 325, top: 57, width: 1695, height: 1397 },
      xAxis: [
        {
          type: "value",
          min: 0,
          max: 120,
          interval: 20,
          z: 10,
          name: "cS1 [PE]",
          nameLocation: "middle",
          nameGap: 134,
          nameTextStyle: { fontFamily: SERIF, fontSize: 78, color: "#000" },
          splitLine: { show: false },
          axisLine: { onZero: false, lineStyle: { color: "#000", width: 8 } },
          axisTick: { inside: true, length: 34, lineStyle: { color: "#000", width: 9 } },
          axisLabel: { fontFamily: SERIF, fontSize: 78, color: "#000", margin: 23, showMinLabel: true, showMaxLabel: true },
        },
        {
          type: "value",
          position: "top",
          min: 0,
          max: 120,
          interval: 20,
          z: 10,
          splitLine: { show: false },
          axisLine: { onZero: false, lineStyle: { color: "#000", width: 8 } },
          axisTick: { show: false },
          axisLabel: { show: false },
        },
      ],
      yAxis: [
        {
          type: "log",
          logBase: 10,
          min: 100,
          max: 10000,
          z: 10,
          name: "cS2 [PE]",
          nameLocation: "middle",
          nameGap: 208,
          nameRotate: 90,
          nameTextStyle: { fontFamily: SERIF, fontSize: 78, color: "#000" },
          splitLine: { show: false },
          minorTick: { show: false },
          axisLine: { onZero: false, lineStyle: { color: "#000", width: 8 } },
          axisTick: { inside: true, length: 34, lineStyle: { color: "#000", width: 8 } },
          axisLabel: {
            margin: 36,
            formatter: (v: number) => `{b|10}{s|${Math.round(Math.log10(v))}}`,
            rich: {
              b: { fontFamily: SERIF, fontSize: 78, color: "#000", lineHeight: 80, verticalAlign: "middle" },
              s: { fontFamily: SERIF, fontSize: 55, color: "#000", lineHeight: 40, verticalAlign: "top" },
            },
          },
        },
        {
          type: "log",
          logBase: 10,
          position: "right",
          min: 100,
          max: 10000,
          z: 10,
          splitLine: { show: false },
          axisLine: { onZero: false, lineStyle: { color: "#000", width: 8 } },
          axisTick: { show: false },
          axisLabel: { show: false },
        },
      ],
      series: [
        {
          type: "line",
          data: [],
          silent: true,
          z: 1,
          markArea: {
            silent: true,
            itemStyle: { color: "#d8d8d8" },
            data: [[{ coord: [100, 100] }, { coord: [120, 10000] }]],
          },
        },
        {
          type: "scatter",
          name: "212Pb",
          data: [...toPairs(bluePointsLow), ...toPairs(bluePointsMid), ...toPairs(bluePointsMidUpper), ...toPairs(bluePointsUpperRight), ...toPairs(bluePointsRight)],
          symbolSize: 8,
          z: 3,
          silent: true,
          itemStyle: { color: BLUE, opacity: 1 },
        },
        {
          type: "scatter",
          name: "37Ar",
          data: toPairs(blackPoints),
          symbolSize: 9,
          z: 4,
          silent: true,
          itemStyle: { color: "#000", opacity: 1 },
        },
        lineSeries(zip(medianCS1, medianCS2), false, false),
        lineSeries(zip(medianFadedCS1, medianFadedCS2), false, true),
        lineSeries(zip(upperCS1, upperCS2), true, false),
        lineSeries(zip(upperFadedCS1, upperFadedCS2), true, true),
        lineSeries(zip(lowerCS1, lowerCS2), true, false),
        lineSeries(zip(lowerFadedCS1, lowerFadedCS2), true, true),
        {
          type: "custom",
          silent: true,
          z: 9,
          clip: false,
          data: minorYTicks.map((v) => [0, v]),
          encode: { x: 0, y: 1 },
          renderItem: (_: any, api: any) => {
            const c = api.coord([api.value(0), api.value(1)]);
            return {
              type: "line",
              shape: { x1: c[0], y1: c[1], x2: c[0] + 18, y2: c[1] },
              style: { stroke: "#000", lineWidth: 6 },
            };
          },
        },
      ],
      graphic: [
        { type: "rect", shape: { x: 1014, y: 83, width: 555, height: 103 }, style: { fill: "#fff", stroke: BLUE, lineWidth: 4 }, z: 20 },
        {
          type: "text",
          x: 1027,
          y: 138,
          z: 21,
          style: {
            text: "{s|212}{b|Pb beta-decays}",
            verticalAlign: "middle",
            rich: {
              s: { fontFamily: "Liberation Sans", fontSize: 42, fill: BLUE, lineHeight: 56, verticalAlign: "top" },
              b: { fontFamily: "Liberation Sans", fontSize: 65.5, fill: BLUE, lineHeight: 70, verticalAlign: "middle" },
            },
          },
        },
        { type: "rect", shape: { x: 393, y: 276, width: 141, height: 98 }, style: { fill: "#fff", stroke: "#000", lineWidth: 4 }, z: 20 },
        {
          type: "text",
          x: 408,
          y: 328,
          z: 21,
          style: {
            text: "{s|37}{b|Ar}",
            verticalAlign: "middle",
            rich: {
              s: { fontFamily: "Liberation Sans", fontSize: 41, fill: "#000", lineHeight: 56, verticalAlign: "top" },
              b: { fontFamily: "Liberation Sans", fontSize: 64, fill: "#000", lineHeight: 70, verticalAlign: "middle" },
            },
          },
        },
      ],
    });
    return () => chart.dispose();
  }, []);
  return <div ref={ref} style={{ position: "absolute", left: 0, top: 0, width: 2121, height: 1671 }} />;
}
